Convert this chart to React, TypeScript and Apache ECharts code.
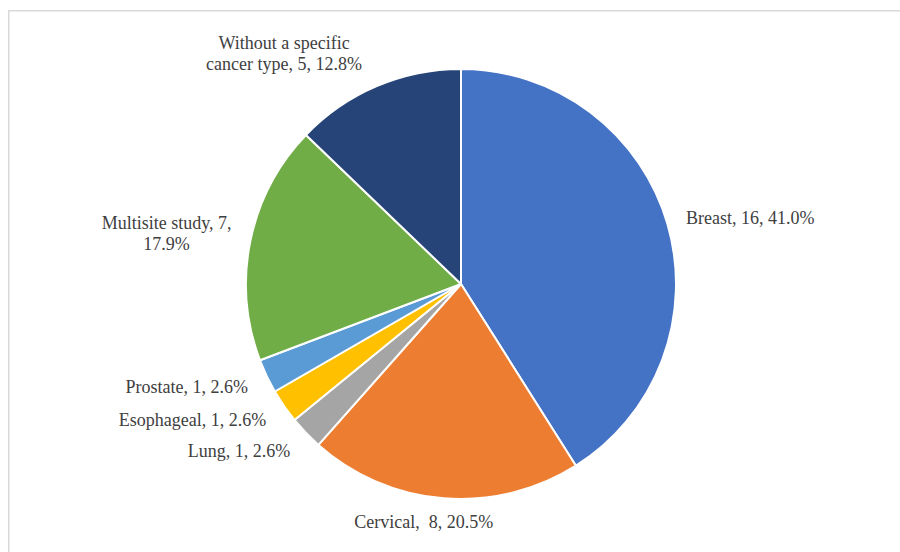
import React, { useEffect, useRef } from "react";
import * as echarts from "echarts";

const categories = [
  "Breast",
  "Cervical",
  "Lung",
  "Esophageal",
  "Prostate",
  "Multisite study",
  "Without a specific cancer type",
];
const counts = [16, 8, 1, 1, 1, 7, 5];
const labelTexts = [
  "Breast, 16, 41.0%",
  "Cervical,  8, 20.5%",
  "Lung, 1, 2.6%",
  "Esophageal, 1, 2.6%",
  "Prostate, 1, 2.6%",
  "Multisite study, 7,\n17.9%",
  "Without a specific\ncancer type, 5, 12.8%",
];
const colors = ["#4472C4", "#ED7D31", "#A5A5A5", "#FFC000", "#5B9BD5", "#70AD47", "#264478"];

// label layout tweaks (offsets from the library's outside label anchor)
const labelAlign = ["left", "center", "right", "right", "right", "center", "center"];
const labelDx = [2, -14, -2, -3, -3, -67, -83];
const labelDy = [-3, 12, 10, 7, 6, -5, -22];

export default function App() {
  const ref = useRef<HTMLDivElement>(null);
  useEffect(() => {
    document.body.style.margin = "0";
    const chart = echarts.init(ref.current!, undefined, { renderer: "svg" });
    chart.setOption({
      animation: false,
      backgroundColor: "#ffffff",
      graphic: [
        {
          type: "rect",
          shape: { x: 8.75, y: 10.75, width: 1000, height: 1000 },
          style: { fill: "none", stroke: "#d9d9d9", lineWidth: 1.5 },
          silent: true,
        },
      ],
      series: [
        {
          type: "pie",
          center: [461, 284],
          radius: 215,
          startAngle: 90,
          clockwise: true,
          avoidLabelOverlap: false,
          itemStyle: { borderColor: "#ffffff", borderWidth: 2 },
          label: {
            show: true,
            position: "outside",
            color: "#404040",
            fontFamily: "'Liberation Serif', 'Times New Roman', serif",
            fontSize: 18,
            lineHeight: 21,
            formatter: (p: any) => labelTexts[p.dataIndex],
          },
          labelLine: { show: false, length: 12, length2: 0 },
          labelLayout: (p: any) => ({
            dx: labelDx[p.dataIndex],
            dy: labelDy[p.dataIndex],
            align: labelAlign[p.dataIndex],
          }),
          data: categories.map((c, i) => ({
            name: c,
            value: counts[i],
            itemStyle: { color: colors[i] },
          })),
        },
      ],
    });
    return () => chart.dispose();
  }, []);
  return <div ref={ref} style={{ width: 900, height: 552 }} />;
}
